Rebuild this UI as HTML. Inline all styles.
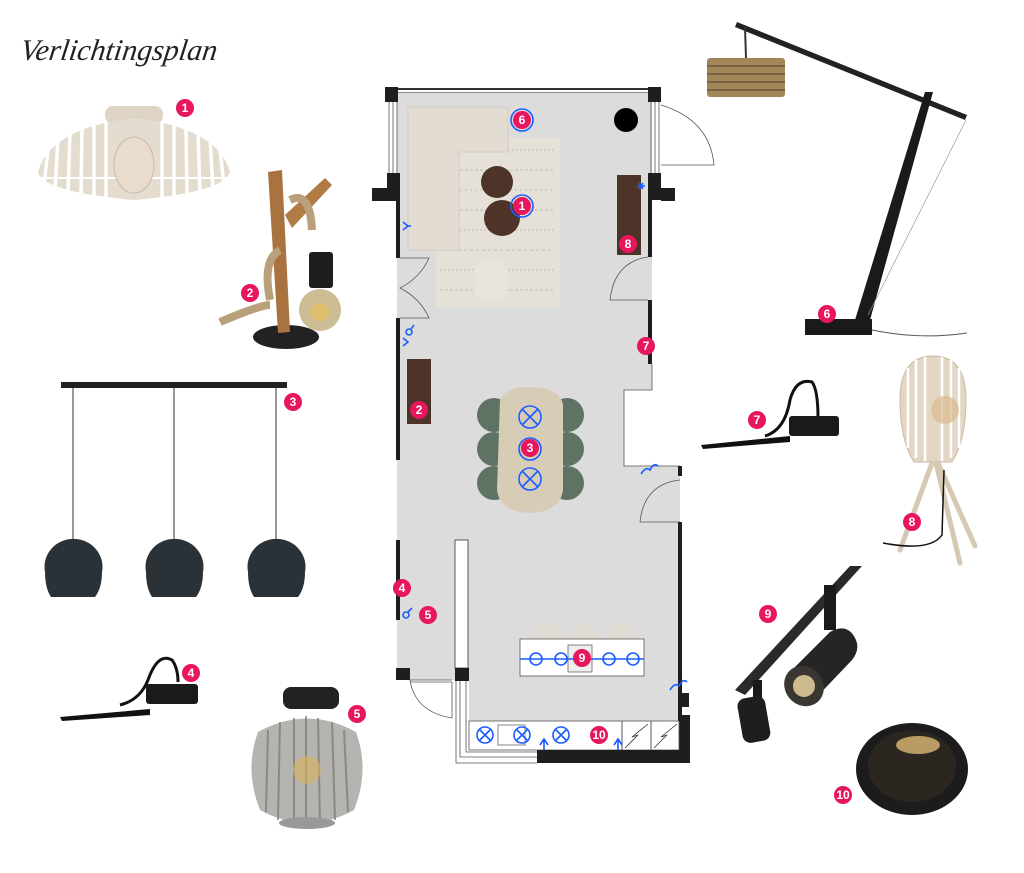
<!DOCTYPE html>
<html><head><meta charset="utf-8"><style>
html,body{margin:0;padding:0;background:#fff;}
svg{display:block}
.b circle{fill:#e8175d}
.b text{fill:#fff;font-family:"Liberation Sans",sans-serif;font-weight:bold;font-size:12px;text-anchor:middle}
.bl{stroke:#1a5cff;fill:none;stroke-width:1.6}
</style></head><body>
<svg width="1024" height="873" viewBox="0 0 1024 873" xmlns="http://www.w3.org/2000/svg">
<text x="28" y="60" font-family="Liberation Serif,serif" font-style="italic" font-size="30" fill="#222" transform="skewX(-8)">Verlichtingsplan</text>

<!-- Lamp 1 -->
<g>
<rect x="105" y="106" width="58" height="18" rx="8" fill="#ddd4c6"/>
<path d="M38 172 Q50 128 134 118 Q218 128 230 172 Q225 192 134 200 Q43 192 38 172 Z" fill="#e4dccf"/>
<g stroke="#fff" stroke-width="3.5">
<line x1="48" y1="150" x2="44" y2="185"/><line x1="58" y1="138" x2="55" y2="190"/><line x1="70" y1="131" x2="68" y2="194"/><line x1="82" y1="126" x2="81" y2="197"/><line x1="94" y1="123" x2="94" y2="198"/><line x1="106" y1="121" x2="106" y2="199"/><line x1="162" y1="121" x2="162" y2="199"/><line x1="174" y1="123" x2="174" y2="198"/><line x1="186" y1="126" x2="187" y2="197"/><line x1="198" y1="131" x2="200" y2="194"/><line x1="210" y1="138" x2="213" y2="190"/><line x1="220" y1="150" x2="224" y2="185"/>
</g>
<line x1="40" y1="178" x2="228" y2="178" stroke="#fff" stroke-width="2"/>
<ellipse cx="134" cy="165" rx="20" ry="28" fill="#e9dccd" stroke="#c8b9a6"/>
</g>

<!-- Lamp 2 -->
<g>
<ellipse cx="286" cy="337" rx="33" ry="12" fill="#222"/>
<path d="M268 172 L282 170 L290 332 L278 333 Z" fill="#a8733f"/>
<path d="M285 215 L325 178 L332 185 L292 228 Z" fill="#b07b44"/>
<path d="M220 322 Q260 305 270 305 M290 200 Q310 190 312 230 M270 300 Q262 260 280 250" stroke="#b9a07a" stroke-width="8" fill="none"/>
<rect x="309" y="252" width="24" height="36" rx="3" fill="#1e1e1e"/>
<circle cx="320" cy="310" r="21" fill="#c8b68a" opacity="0.9"/>
<circle cx="320" cy="312" r="9" fill="#e8c060" opacity="0.7"/>
</g>

<!-- Lamp 3 -->
<g>
<rect x="61" y="382" width="226" height="6" fill="#222"/>
<g stroke="#333" stroke-width="1"><line x1="73" y1="388" x2="73" y2="545"/><line x1="174" y1="388" x2="174" y2="545"/><line x1="276" y1="388" x2="276" y2="545"/></g>
<g fill="#2a3238"><path d="M45 572 A29 28 0 1 1 102 572 Q102 588 95 597 L51 597 Q45 588 45 572Z"/><path d="M146 572 A29 28 0 1 1 203 572 Q203 588 196 597 L152 597 Q146 588 146 572Z"/><path d="M248 572 A29 28 0 1 1 305 572 Q305 588 298 597 L254 597 Q248 588 248 572Z"/></g>
</g>

<!-- Lamp 4 -->
<g>
<path d="M120 705 Q140 700 148 680 Q158 652 172 660 Q178 668 178 682" stroke="#111" stroke-width="3" fill="none"/>
<rect x="146" y="684" width="52" height="20" rx="3" fill="#1a1a1a"/>
<path d="M60 717 L150 709 L150 715 L62 721 Z" fill="#111"/>
</g>

<!-- Lamp 5 -->
<g>
<rect x="283" y="687" width="56" height="22" rx="8" fill="#222"/>
<path d="M258 732 Q307 705 356 732 Q370 770 354 810 Q307 836 260 810 Q244 770 258 732Z" fill="#b5b4b0"/>
<g stroke="#7a7770" stroke-width="2" opacity="0.7"><line x1="268" y1="730" x2="266" y2="812"/><line x1="280" y1="722" x2="278" y2="820"/><line x1="294" y1="718" x2="294" y2="824"/><line x1="306" y1="716" x2="306" y2="826"/><line x1="318" y1="718" x2="320" y2="824"/><line x1="332" y1="722" x2="335" y2="820"/><line x1="344" y1="730" x2="348" y2="812"/></g>
<circle cx="307" cy="770" r="14" fill="#d8b25c" opacity="0.6"/>
<ellipse cx="307" cy="823" rx="28" ry="6" fill="#999"/>
</g>

<!-- Lamp 6 -->
<g>
<path d="M737 22 L967 115 L965 120 L735 27Z" fill="#222"/>
<line x1="745" y1="27" x2="746" y2="58" stroke="#333" stroke-width="2"/>
<rect x="707" y="58" width="78" height="39" rx="3" fill="#a3875a"/>
<g stroke="#5b4a33" stroke-width="2" opacity="0.6"><line x1="707" y1="66" x2="785" y2="66"/><line x1="707" y1="74" x2="785" y2="74"/><line x1="707" y1="82" x2="785" y2="82"/><line x1="707" y1="90" x2="785" y2="90"/></g>
<path d="M925 92 L933 92 L870 320 L855 320 Z" fill="#1a1a1a"/>
<line x1="966" y1="120" x2="868" y2="315" stroke="#999" stroke-width="0.7"/>
<rect x="805" y="319" width="67" height="16" fill="#1a1a1a"/>
<path d="M872 330 Q920 340 967 333" stroke="#555" fill="none"/>
</g>

<!-- Lamp 7 -->
<g>
<path d="M765 436 Q785 430 790 400 Q796 378 812 382 Q818 390 818 418" stroke="#111" stroke-width="3" fill="none"/>
<rect x="789" y="416" width="50" height="20" rx="3" fill="#1a1a1a"/>
<path d="M701 445 L790 436 L790 442 L703 449Z" fill="#111"/>
</g>

<!-- Lamp 8 -->
<g>
<path d="M900 400 Q900 356 933 356 Q966 356 966 400 Q966 440 952 462 L914 462 Q900 440 900 400Z" fill="#e3d6c4" stroke="#cbbba4"/>
<g stroke="#fff" stroke-width="2.5"><line x1="908" y1="368" x2="908" y2="448"/><line x1="916" y1="360" x2="916" y2="458"/><line x1="925" y1="357" x2="925" y2="461"/><line x1="942" y1="357" x2="942" y2="461"/><line x1="951" y1="360" x2="951" y2="458"/><line x1="959" y1="368" x2="959" y2="448"/></g>
<circle cx="945" cy="410" r="14" fill="#d9b98e" opacity="0.7"/>
<g stroke="#d6c8b2" stroke-width="5" stroke-linecap="round"><line x1="932" y1="463" x2="900" y2="550"/><line x1="936" y1="463" x2="960" y2="563"/><line x1="938" y1="463" x2="975" y2="546"/></g>
<path d="M883 543 Q930 552 942 535 L944 470" stroke="#111" fill="none" stroke-width="1.5"/>
</g>

<!-- Lamp 9 -->
<g>
<path d="M735 690 L850 566 L862 566 L745 695Z" fill="#2a2a2a"/>
<rect x="824" y="585" width="12" height="45" fill="#1a1a1a"/>
<path d="M790 672 L830 632 Q848 622 856 640 Q860 650 852 660 L812 702 Z" fill="#252525"/>
<ellipse cx="804" cy="686" rx="19" ry="21" fill="#3a3632" transform="rotate(-40 804 686)"/>
<circle cx="804" cy="686" r="11" fill="#cdbb8e"/>
<rect x="753" y="680" width="9" height="20" fill="#1a1a1a"/>
<rect x="740" y="697" width="28" height="45" rx="8" fill="#1e1e1e" transform="rotate(-10 754 720)"/>
</g>

<!-- Lamp 10 -->
<g>
<ellipse cx="912" cy="769" rx="56" ry="46" fill="#1c1c1c"/>
<ellipse cx="912" cy="766" rx="44" ry="36" fill="#2c2620"/>
<ellipse cx="918" cy="745" rx="22" ry="9" fill="#b89c64"/>
</g>

<!-- ============== FLOOR PLAN ============== -->
<g>
<path d="M397 92 L652 92 L652 390 L624 390 L624 466 L680 466 L680 722 L469 722 L469 680 L397 680 Z" fill="#dcdcdc"/>
<rect x="398" y="88" width="250" height="2" fill="#333"/><rect x="398" y="92" width="250" height="1" fill="#888"/>
<rect x="385" y="87" width="13" height="15" fill="#1e1e1e"/><rect x="648" y="87" width="13" height="15" fill="#1e1e1e"/>
<g stroke="#555" stroke-width="0.8"><line x1="389" y1="102" x2="389" y2="173"/><line x1="393" y1="102" x2="393" y2="173"/><line x1="397" y1="102" x2="397" y2="173"/><line x1="651" y1="102" x2="651" y2="173"/><line x1="655" y1="102" x2="655" y2="173"/><line x1="659" y1="102" x2="659" y2="173"/></g>
<rect x="387" y="173" width="13" height="15" fill="#1e1e1e"/><rect x="372" y="188" width="28" height="13" fill="#1e1e1e"/>
<rect x="396" y="188" width="4" height="70" fill="#1e1e1e"/>
<rect x="396" y="318" width="4" height="142" fill="#1e1e1e"/>
<rect x="396" y="540" width="4" height="80" fill="#1e1e1e"/>
<rect x="396" y="668" width="14" height="12" fill="#1e1e1e"/>
<path d="M400 258 L429 258 Q420 278 400 288 Q420 298 429 318 L400 318" stroke="#555" fill="none" stroke-width="0.8"/>
<rect x="648" y="173" width="13" height="27" fill="#1e1e1e"/><rect x="661" y="188" width="14" height="13" fill="#1e1e1e"/>
<rect x="648" y="200" width="4" height="57" fill="#1e1e1e"/>
<rect x="648" y="300" width="4" height="64" fill="#1e1e1e"/>
<path d="M648 257 Q614 262 610 300 L648 300" stroke="#555" fill="none" stroke-width="0.8"/>
<path d="M661 105 Q710 120 714 165 L661 165" stroke="#555" fill="none" stroke-width="0.8"/>
<path d="M652 364 L652 390 L624 390 L624 466 L680 466" stroke="#555" fill="none" stroke-width="0.8"/>
<rect x="678" y="466" width="4" height="10" fill="#1e1e1e"/>
<path d="M680 480 Q644 484 640 522 L680 522" stroke="#555" fill="none" stroke-width="0.8"/>
<rect x="678" y="522" width="4" height="193" fill="#1e1e1e"/>
<rect x="678" y="693" width="11" height="14" fill="#1e1e1e"/>
<rect x="678" y="715" width="12" height="48" fill="#1e1e1e"/>
<rect x="455" y="540" width="13" height="128" fill="#fff" stroke="#333" stroke-width="0.8"/>
<rect x="455" y="668" width="14" height="13" fill="#1e1e1e"/>
<path d="M456 681 L456 763 L537 763 M460 681 L460 757 L537 757 M466 681 L466 752 L537 752" stroke="#555" fill="none" stroke-width="0.8"/>
<path d="M410 680 L452 680 M410 682 L452 682 M452 682 L452 718 Q415 712 410 680" stroke="#555" fill="none" stroke-width="0.8"/>
<rect x="469" y="721" width="210" height="29" fill="#fff" stroke="#555" stroke-width="0.8"/>
<rect x="537" y="750" width="153" height="13" fill="#1e1e1e"/>
<line x1="622" y1="721" x2="622" y2="750" stroke="#555"/><line x1="651" y1="721" x2="651" y2="750" stroke="#555"/>
<path d="M625 748 L638 735 L632 737 L648 724 M654 748 L667 735 L661 737 L677 724" stroke="#333" fill="none" stroke-width="0.8"/>
<rect x="498" y="725" width="27" height="20" fill="#fff" stroke="#666" stroke-width="0.8"/>
<rect x="436" y="138" width="124" height="169" fill="#e6e1d8"/>
<g stroke="#a8a29a" stroke-width="1" opacity="0.6">
<line x1="440" y1="150" x2="555" y2="150" stroke-dasharray="2 2"/><line x1="440" y1="170" x2="555" y2="170" stroke-dasharray="3 2"/><line x1="440" y1="190" x2="555" y2="190" stroke-dasharray="2 3"/><line x1="440" y1="210" x2="555" y2="210" stroke-dasharray="3 2"/><line x1="440" y1="230" x2="555" y2="230" stroke-dasharray="2 2"/><line x1="440" y1="250" x2="555" y2="250" stroke-dasharray="3 3"/><line x1="440" y1="270" x2="555" y2="270" stroke-dasharray="2 2"/><line x1="440" y1="290" x2="555" y2="290" stroke-dasharray="3 2"/>
</g>
<path d="M408 108 Q408 107 412 107 L505 107 Q508 107 508 110 L508 152 L459 152 L459 250 L410 250 Q408 250 408 248 Z" fill="#e2dcd3" stroke="#d2cbc0"/>
<rect x="475" y="262" width="32" height="38" rx="8" fill="#e9e4dd"/>
<circle cx="497" cy="182" r="16" fill="#4e3328"/>
<circle cx="502" cy="218" r="18" fill="#4e3328"/>
<circle cx="626" cy="120" r="12" fill="#000"/>
<rect x="617" y="175" width="24" height="80" fill="#4e3328"/>
<rect x="407" y="359" width="24" height="65" fill="#4e3328"/>
<g fill="#5e7364"><circle cx="494" cy="415" r="17"/><circle cx="494" cy="449" r="17"/><circle cx="494" cy="483" r="17"/><circle cx="567" cy="415" r="17"/><circle cx="567" cy="449" r="17"/><circle cx="567" cy="483" r="17"/></g>
<path d="M500 400 Q505 387 530 387 Q560 387 563 405 L563 490 Q560 512 530 513 Q500 512 497 490 Z" fill="#d7ccb6"/>
<g class="bl"><circle cx="530" cy="417" r="11"/><path d="M522 409 L538 425 M538 409 L522 425"/><circle cx="530" cy="449" r="11"/><circle cx="530" cy="479" r="11"/><path d="M522 471 L538 487 M538 471 L522 487"/><circle cx="522" cy="120" r="11"/><circle cx="522" cy="206" r="11"/></g>
<g fill="#e0dbd2"><path d="M530 640 A16 16 0 0 1 562 640Z"/><path d="M568 640 A16 16 0 0 1 600 640Z"/><path d="M606 640 A16 16 0 0 1 638 640Z"/></g>
<rect x="520" y="639" width="124" height="37" fill="#fff" stroke="#555" stroke-width="0.8"/>
<rect x="568" y="645" width="24" height="27" fill="#eee" stroke="#666" stroke-width="0.8"/>
<line x1="520" y1="659" x2="644" y2="659" stroke="#1a5cff" stroke-width="1.5"/>
<g class="bl" stroke-width="1.2"><circle cx="536" cy="659" r="6"/><circle cx="561" cy="659" r="6"/><circle cx="609" cy="659" r="6"/><circle cx="633" cy="659" r="6"/></g>
<g class="bl"><circle cx="485" cy="735" r="8"/><path d="M479 729 L491 741 M491 729 L479 741"/><circle cx="522" cy="735" r="8"/><path d="M516 729 L528 741 M528 729 L516 741"/><circle cx="561" cy="735" r="8"/><path d="M555 729 L567 741 M567 729 L555 741"/></g>
<g class="bl" stroke-width="1.2"><path d="M403 222 L408 226 L403 230 M408 226 L411 226"/><circle cx="409" cy="332" r="3"/><path d="M411 329 L414 325"/><path d="M403 338 L408 342 L403 346"/><circle cx="406" cy="615" r="3"/><path d="M408 612 L412 608"/><path d="M637 186 L645 186 M639 183 L643 189 M643 183 L639 189"/><path d="M641 474 Q646 466 650 470 Q654 462 658 466" /><path d="M670 690 Q675 682 679 686 Q683 678 687 682"/><path d="M540 745 L544 739 L548 745 M544 739 L544 750"/><path d="M614 745 L618 739 L622 745 M618 739 L618 750"/></g>
</g>

<g class="b">
<circle cx="185" cy="108" r="9"/><text x="185" y="112">1</text>
<circle cx="250" cy="293" r="9"/><text x="250" y="297">2</text>
<circle cx="293" cy="402" r="9"/><text x="293" y="406">3</text>
<circle cx="191" cy="673" r="9"/><text x="191" y="677">4</text>
<circle cx="357" cy="714" r="9"/><text x="357" y="718">5</text>
<circle cx="827" cy="314" r="9"/><text x="827" y="318">6</text>
<circle cx="757" cy="420" r="9"/><text x="757" y="424">7</text>
<circle cx="912" cy="522" r="9"/><text x="912" y="526">8</text>
<circle cx="768" cy="614" r="9"/><text x="768" y="618">9</text>
<circle cx="843" cy="795" r="9"/><text x="843" y="799" font-size="11">10</text>
<circle cx="522" cy="120" r="9"/><text x="522" y="124">6</text>
<circle cx="522" cy="206" r="9"/><text x="522" y="210">1</text>
<circle cx="628" cy="244" r="9"/><text x="628" y="248">8</text>
<circle cx="419" cy="410" r="9"/><text x="419" y="414">2</text>
<circle cx="646" cy="346" r="9"/><text x="646" y="350">7</text>
<circle cx="530" cy="448" r="9"/><text x="530" y="452">3</text>
<circle cx="402" cy="588" r="9"/><text x="402" y="592">4</text>
<circle cx="428" cy="615" r="9"/><text x="428" y="619">5</text>
<circle cx="582" cy="658" r="9"/><text x="582" y="662">9</text>
<circle cx="599" cy="735" r="9"/><text x="599" y="739" font-size="11">10</text>
</g>
</svg>
</body></html>
